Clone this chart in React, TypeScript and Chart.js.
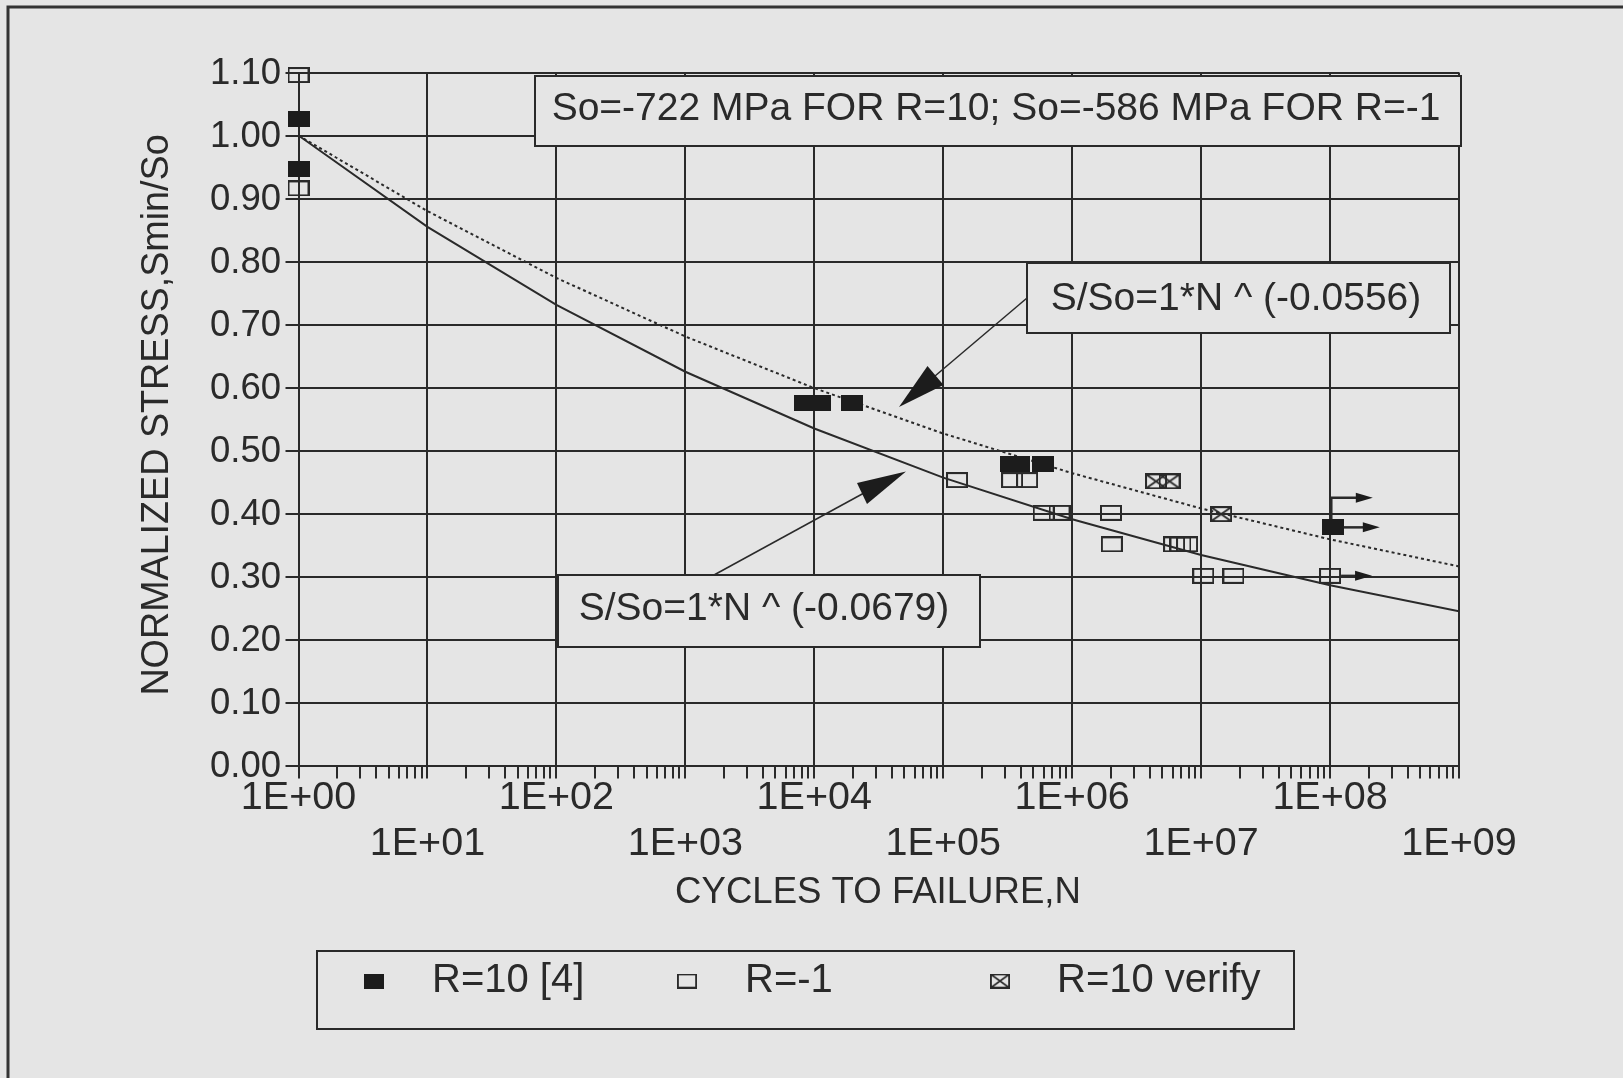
import React, { useEffect, useRef } from 'react';
import { Chart, registerables } from 'chart.js';

Chart.register(...registerables);

// ---------------- data ----------------
const decadeValues = [1, 1e1, 1e2, 1e3, 1e4, 1e5, 1e6, 1e7, 1e8, 1e9];
const decadeLabels = ['1E+00', '1E+01', '1E+02', '1E+03', '1E+04', '1E+05', '1E+06', '1E+07', '1E+08', '1E+09'];
const yTickValues = [0, 0.1, 0.2, 0.3, 0.4, 0.5, 0.6, 0.7, 0.8, 0.9, 1.0, 1.1];
const yTickLabels = ['0.00', '0.10', '0.20', '0.30', '0.40', '0.50', '0.60', '0.70', '0.80', '0.90', '1.00', '1.10'];

// R=10 [4] (filled squares)
const r10N = [1, 1, 8480, 11090, 19450, 335700, 387000, 594000, 1.05e8];
const r10S = [1.026, 0.947, 0.576, 0.576, 0.576, 0.478, 0.478, 0.478, 0.378];

// R=-1 (open squares)
const rm1N = [1, 1, 128000, 342000, 447000, 601000, 798000, 2.0e6, 2.03e6, 6.17e6, 6.92e6, 7.78e6, 1.04e7, 1.78e7, 1.0e8];
const rm1S = [1.096, 0.916, 0.453, 0.453, 0.453, 0.401, 0.401, 0.401, 0.351, 0.351, 0.351, 0.351, 0.301, 0.301, 0.301];

// R=10 verify (crossed squares)
const verN = [4.47e6, 5.69e6, 1.43e7];
const verS = [0.451, 0.451, 0.399];

// fitted curves read at each decade
const fitN = [1, 1e1, 1e2, 1e3, 1e4, 1e5, 1e6, 1e7, 1e8, 1e9];
const fit0679 = [1.0, 0.855, 0.731, 0.625, 0.535, 0.457, 0.391, 0.334, 0.286, 0.245];
const fit0556 = [1.0, 0.880, 0.774, 0.681, 0.599, 0.527, 0.464, 0.408, 0.359, 0.316];

const seriesLabels = ['R=10 [4]', 'R=-1', 'R=10 verify'];
const headerText = 'So=-722 MPa FOR R=10; So=-586 MPa FOR R=-1';
const eqUpper = 'S/So=1*N ^ (-0.0556)';
const eqLower = 'S/So=1*N ^ (-0.0679)';
const xTitle = 'CYCLES TO FAILURE,N';
const yTitle = 'NORMALIZED STRESS,Smin/So';

// runout markers: [datasetIndex, pointIndex, kind]
const runouts: [number, number, string][] = [
  [0, 8, 'double'],
  [1, 14, 'single'],
];

// ---------------- style ----------------
const INK = '#2a2a2a';
const BG = '#e5e5e5';
const FONT = '"Liberation Sans", Arial, Helvetica, sans-serif';
const SX = 1.0;

const xTickValues: number[] = (() => {
  const out: number[] = [];
  for (let d = 0; d < 9; d++) for (let m = 1; m <= 9; m++) out.push(m * Math.pow(10, d));
  out.push(1e9);
  return out;
})();

function isMajor(v: number | undefined) {
  if (v === undefined) return false;
  const l = Math.log10(v);
  return Math.abs(l - Math.round(l)) < 1e-9;
}

function makeMarker(kind: string, w = 22, h = 16): HTMLCanvasElement {
  const c = document.createElement('canvas');
  c.width = w;
  c.height = h;
  const g = c.getContext('2d')!;
  g.strokeStyle = INK;
  g.fillStyle = '#1c1c1c';
  g.lineWidth = 2;
  if (kind === 'filled') {
    g.fillRect(0, 0, w, h);
  } else {
    g.strokeRect(1, 1, w - 2, h - 2);
    if (kind === 'cross') {
      g.beginPath();
      g.moveTo(1, 1);
      g.lineTo(w - 1, h - 1);
      g.moveTo(w - 1, 1);
      g.lineTo(1, h - 1);
      g.stroke();
    }
  }
  return c;
}

function text(ctx: CanvasRenderingContext2D, s: string, x: number, y: number, size: number,
  align: CanvasTextAlign = 'center', sx = SX, rot = 0) {
  ctx.save();
  ctx.translate(x, y);
  ctx.scale(sx, 1);
  if (rot) ctx.rotate(rot);
  ctx.font = `${size}px ${FONT}`;
  ctx.fillStyle = INK;
  ctx.textAlign = align;
  ctx.textBaseline = 'middle';
  ctx.fillText(s, 0, 0);
  ctx.restore();
}

function box(ctx: CanvasRenderingContext2D, x1: number, y1: number, x2: number, y2: number) {
  ctx.save();
  ctx.fillStyle = BG;
  ctx.fillRect(x1, y1, x2 - x1, y2 - y1);
  ctx.strokeStyle = INK;
  ctx.lineWidth = 2;
  ctx.strokeRect(x1, y1, x2 - x1, y2 - y1);
  ctx.restore();
}

function line(ctx: CanvasRenderingContext2D, pts: number[][], w = 2) {
  ctx.save();
  ctx.strokeStyle = INK;
  ctx.lineWidth = w;
  ctx.beginPath();
  ctx.moveTo(pts[0][0], pts[0][1]);
  for (let i = 1; i < pts.length; i++) ctx.lineTo(pts[i][0], pts[i][1]);
  ctx.stroke();
  ctx.restore();
}

function tri(ctx: CanvasRenderingContext2D, a: number[], b: number[], c: number[]) {
  ctx.save();
  ctx.fillStyle = '#1c1c1c';
  ctx.beginPath();
  ctx.moveTo(a[0], a[1]);
  ctx.lineTo(b[0], b[1]);
  ctx.lineTo(c[0], c[1]);
  ctx.closePath();
  ctx.fill();
  ctx.restore();
}

function hArrow(ctx: CanvasRenderingContext2D, x1: number, x2: number, y: number) {
  line(ctx, [[x1, y], [x2 - 12, y]], 2.5);
  tri(ctx, [x2, y], [x2 - 17, y - 5], [x2 - 17, y + 5]);
}

export default function App() {
  const ref = useRef<HTMLCanvasElement>(null);

  useEffect(() => {
    if (!ref.current) return;
    const mFilled = makeMarker('filled');
    const mOpen = makeMarker('open');
    const mCross = makeMarker('cross');
    const markers = [mFilled, mOpen, mCross];

    const decor = {
      id: 'decor',
      beforeDraw(chart: any) {
        const ctx = chart.ctx as CanvasRenderingContext2D;
        ctx.save();
        ctx.fillStyle = BG;
        ctx.fillRect(0, 0, chart.width, chart.height);
        ctx.strokeStyle = '#333';
        ctx.lineWidth = 3;
        ctx.beginPath();
        ctx.moveTo(8, 1078);
        ctx.lineTo(8, 7);
        ctx.lineTo(1623, 7);
        ctx.stroke();
        ctx.restore();
      },
      afterDatasetsDraw(chart: any) {
        const ctx = chart.ctx as CanvasRenderingContext2D;
        const xs = chart.scales.x;
        const ys = chart.scales.y;

        // y tick labels
        yTickValues.forEach((v, i) => {
          text(ctx, yTickLabels[i], 281, ys.getPixelForValue(v) + 1, 36.5, 'right');
        });
        // x tick labels, two staggered rows
        decadeValues.forEach((v, i) => {
          const y = i % 2 === 0 ? 798 : 844;
          text(ctx, decadeLabels[i], xs.getPixelForValue(v), y, 39.5, 'center');
        });
        // axis titles
        text(ctx, xTitle, 878, 893, 36.6, 'center');
        text(ctx, yTitle, 157, 415, 37.7, 'center', 1.05, -Math.PI / 2);

        // header box
        box(ctx, 535, 76, 1461, 146);
        text(ctx, headerText, 996, 109, 39, 'center');

        // upper equation box + arrow
        box(ctx, 1027, 263, 1450, 333);
        text(ctx, eqUpper, 1236, 299, 39, 'center');
        line(ctx, [[1027, 298], [935, 376]], 1.5);
        tri(ctx, [899, 407], [927.5, 366], [943.5, 385]);

        // lower equation box + arrow
        box(ctx, 558, 575, 980, 647);
        text(ctx, eqLower, 764, 609, 39, 'center');
        line(ctx, [[714, 575], [864, 493]], 1.5);
        tri(ctx, [906, 471.5], [857, 483], [867, 504]);

        // run-out arrows
        runouts.forEach(([di, pi, kind]) => {
          const el = chart.getDatasetMeta(di).data[pi];
          if (!el) return;
          const px = el.x, py = el.y;
          if (kind === 'double') {
            hArrow(ctx, px + 11, px + 47, py);
            line(ctx, [[px - 1.5, py - 8], [px - 1.5, py - 29.5], [px + 28, py - 29.5]], 2.5);
            tri(ctx, [px + 40, py - 29.5], [px + 23, py - 34.5], [px + 23, py - 24.5]);
          } else {
            hArrow(ctx, px + 11, px + 42, py);
          }
        });

        // legend
        box(ctx, 317, 951, 1294, 1029);
        const lx = [374, 687, 1000];
        const tx = [432, 745, 1057];
        seriesLabels.forEach((s, i) => {
          const m = markers[i];
          ctx.drawImage(m, lx[i] - 10, 981 - 7.5, 20, 15);
          text(ctx, s, tx[i], 981, 40, 'left');
        });
      },
    };

    const toPts = (xsArr: number[], ysArr: number[]) => xsArr.map((x, i) => ({ x, y: ysArr[i] }));

    const chart = new Chart(ref.current, {
      type: 'scatter',
      data: {
        datasets: [
          { label: seriesLabels[0], data: toPts(r10N, r10S), pointStyle: mFilled as any, pointRadius: 11, clip: false as any },
          { label: seriesLabels[1], data: toPts(rm1N, rm1S), pointStyle: mOpen as any, pointRadius: 11, clip: false as any },
          { label: seriesLabels[2], data: toPts(verN, verS), pointStyle: mCross as any, pointRadius: 11, clip: false as any },
          {
            type: 'line' as any, label: 'fit -0.0556', data: toPts(fitN, fit0556), showLine: true,
            pointRadius: 0, borderColor: INK, borderWidth: 2, borderDash: [3, 3], tension: 0, fill: false,
          } as any,
          {
            type: 'line' as any, label: 'fit -0.0679', data: toPts(fitN, fit0679), showLine: true,
            pointRadius: 0, borderColor: INK, borderWidth: 2, tension: 0, fill: false,
          } as any,
        ],
      },
      options: {
        animation: false,
        responsive: false,
        maintainAspectRatio: false,
        devicePixelRatio: 1,
        layout: { padding: { left: 285.5, right: 164, top: 72.5, bottom: 299.5 } },
        plugins: { legend: { display: false }, tooltip: { enabled: false } },
        scales: {
          x: {
            type: 'logarithmic',
            min: 1,
            max: 1e9,
            afterBuildTicks: (scale: any) => {
              scale.ticks = xTickValues.map((v) => ({ value: v }));
            },
            ticks: { display: false, autoSkip: false },
            grid: {
              color: (c: any) => (isMajor(c.tick && c.tick.value) ? INK : 'rgba(0,0,0,0)'),
              lineWidth: 2,
              tickColor: INK,
              tickWidth: 2,
              tickLength: 13,
              drawTicks: true,
            },
            border: { display: true, color: INK, width: 2 },
          },
          y: {
            min: 0,
            max: 1.1,
            afterBuildTicks: (scale: any) => {
              scale.ticks = yTickValues.map((v) => ({ value: v }));
            },
            ticks: { display: false },
            grid: { color: INK, lineWidth: 2, tickColor: INK, tickWidth: 2, tickLength: 13, drawTicks: true },
            border: { display: true, color: INK, width: 2 },
          },
        } as any,
      },
      plugins: [decor],
    } as any);
    return () => chart.destroy();
  }, []);

  return (
    <div style={{ position: 'fixed', left: 0, top: 0, width: 1623, height: 1078, background: BG }}>
      <canvas ref={ref} width={1623} height={1078} style={{ display: 'block', width: 1623, height: 1078 }} />
    </div>
  );
}
